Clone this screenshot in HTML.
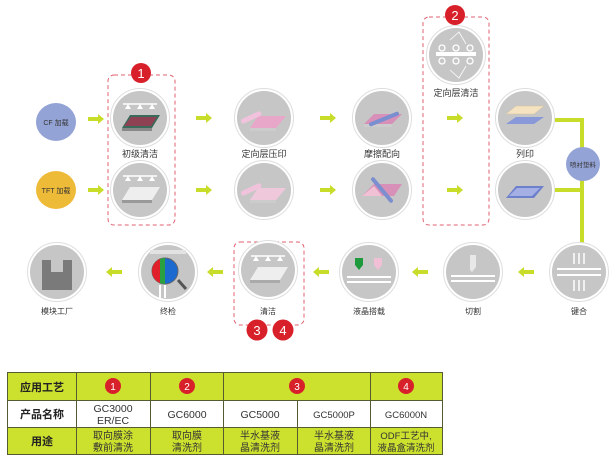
<!DOCTYPE html>
<html><head><meta charset="utf-8"><style>
html,body{margin:0;padding:0;background:#fff;}
svg{display:block;font-family:"Liberation Sans","Noto Sans CJK SC",sans-serif;}
</style></head><body>
<svg width="615" height="463" viewBox="0 0 615 463" xmlns="http://www.w3.org/2000/svg">
<defs>
<g id="arR"><rect x="0" y="-2" width="11" height="4" fill="#c8dc2a"/><polygon points="10,-5 16,0 10,5" fill="#c8dc2a"/></g>
<g id="arL"><rect x="5" y="-2" width="11" height="4" fill="#c8dc2a"/><polygon points="6,-5 0,0 6,5" fill="#c8dc2a"/></g>
<g id="circ"><circle r="29.5" fill="#fff" stroke="#dedede" stroke-width="1"/><circle r="27" fill="#c6c6c6"/></g>
<g id="spray"><line x1="-17" y1="-14" x2="17" y2="-14" stroke="#fff" stroke-width="1.5"/><polygon points="-12,-14 -15,-9 -9,-9" fill="#fff"/><polygon points="0,-14 -3,-9 3,-9" fill="#fff"/><polygon points="12,-14 9,-9 15,-9" fill="#fff"/></g>
</defs>

<!-- dashed boxes -->
<rect x="108" y="75" width="67" height="150" rx="6" fill="none" stroke="#e06070" stroke-width="1" stroke-dasharray="4,3"/>
<rect x="423" y="17" width="66" height="208" rx="6" fill="none" stroke="#e06070" stroke-width="1" stroke-dasharray="4,3"/>
<rect x="234" y="242" width="70" height="83" rx="6" fill="none" stroke="#e06070" stroke-width="1" stroke-dasharray="4,3"/>

<!-- loading circles -->
<ellipse cx="56" cy="122" rx="20" ry="19" fill="#94a3d6"/>
<text x="56" y="125" font-size="7" text-anchor="middle" fill="#333">CF 加载</text>
<ellipse cx="56" cy="190" rx="20" ry="19" fill="#eebb38"/>
<text x="56" y="193" font-size="7" text-anchor="middle" fill="#333">TFT 加载</text>

<!-- row 1 arrows -->
<use href="#arR" x="88" y="119"/>
<use href="#arR" x="196" y="118"/>
<use href="#arR" x="320" y="118"/>
<use href="#arR" x="447" y="118"/>
<!-- row 2 arrows -->
<use href="#arR" x="88" y="190"/>
<use href="#arR" x="196" y="190"/>
<use href="#arR" x="320" y="190"/>
<use href="#arR" x="447" y="190"/>

<!-- right connector -->
<rect x="555" y="118" width="29" height="4" fill="#c8dc2a"/>
<rect x="555" y="188" width="29" height="4" fill="#c8dc2a"/>
<rect x="580" y="118" width="4" height="130" fill="#c8dc2a"/>
<ellipse cx="583" cy="164" rx="17" ry="17" fill="#94a3d6"/>
<text x="583" y="167" font-size="6.5" text-anchor="middle" fill="#333">喷衬垫料</text>

<!-- row 1 circles -->
<use href="#circ" x="140" y="118"/>
<use href="#spray" x="140" y="118"/>
<polygon points="122,128 152,128 160,115 130,115" fill="#3a6a5a"/>
<polygon points="124,126 151,126 157,117 131,117" fill="#b03050" opacity="0.7"/>
<polygon points="122,128 152,128 152,131 122,131" fill="#888"/>
<text x="140" y="157" font-size="9" text-anchor="middle" fill="#333">初级清洁</text>

<use href="#circ" x="264" y="118"/>
<polygon points="250,128 276,128 286,116 258,116" fill="#e8a6c8"/>
<polygon points="250,128 276,128 276,131 250,131" fill="#ccc"/>
<rect x="240" y="115" width="22" height="5" rx="2.5" fill="#f1c2dc" transform="rotate(-25 251 117)"/>
<text x="264" y="157" font-size="9" text-anchor="middle" fill="#333">定向层压印</text>

<use href="#circ" x="382" y="118"/>
<polygon points="364,124 392,124 402,114 374,114" fill="#d890b8"/>
<polygon points="364,124 392,124 392,127 364,127" fill="#ccc"/>
<rect x="368" y="117" width="32" height="4" rx="2" fill="#7a8ed0" transform="rotate(-22 384 119)"/>
<text x="382" y="157" font-size="9" text-anchor="middle" fill="#333">摩擦配向</text>

<use href="#circ" x="525" y="118"/>
<polygon points="506,124 534,124 544,117 516,117" fill="#8898d8"/>
<polygon points="506,114 534,114 544,106 516,106" fill="#f4e2c0" stroke="#d6c4a0" stroke-width="0.5"/>
<text x="525" y="157" font-size="9" text-anchor="middle" fill="#333">列印</text>

<!-- circle 2 -->
<use href="#circ" x="456" y="55"/>
<rect x="436" y="52" width="40" height="4" fill="#fff"/>
<circle cx="442" cy="48" r="3" fill="none" stroke="#fff" stroke-width="1.3"/>
<circle cx="456" cy="48" r="3" fill="none" stroke="#fff" stroke-width="1.3"/>
<circle cx="470" cy="48" r="3" fill="none" stroke="#fff" stroke-width="1.3"/>
<circle cx="442" cy="61" r="3" fill="none" stroke="#fff" stroke-width="1.3"/>
<circle cx="456" cy="61" r="3" fill="none" stroke="#fff" stroke-width="1.3"/>
<circle cx="470" cy="61" r="3" fill="none" stroke="#fff" stroke-width="1.3"/>
<polyline points="450,40 459,32 466,44" fill="none" stroke="#fff" stroke-width="0.8"/>
<polyline points="450,70 459,78 466,66" fill="none" stroke="#fff" stroke-width="0.8"/>
<text x="456" y="96" font-size="9" text-anchor="middle" fill="#333">定向层清洁</text>

<!-- row 2 circles -->
<use href="#circ" x="140" y="190"/>
<use href="#spray" x="140" y="190"/>
<polygon points="122,200 152,200 160,187 130,187" fill="#eeeeee"/>
<polygon points="122,200 152,200 152,203 122,203" fill="#999"/>

<use href="#circ" x="264" y="190"/>
<polygon points="250,200 276,200 286,188 258,188" fill="#f0c8dc"/>
<polygon points="250,200 276,200 276,203 250,203" fill="#ccc"/>
<rect x="240" y="187" width="22" height="5" rx="2.5" fill="#f1c2dc" transform="rotate(-25 251 189)"/>

<use href="#circ" x="382" y="190"/>
<polygon points="362,196 394,196 402,184 374,184" fill="#d890b8"/>
<polygon points="362,196 382,196 374,186" fill="#f0c0d4"/>
<rect x="366" y="188" width="32" height="4" rx="2" fill="#7a8ed0" transform="rotate(50 382 190)"/>

<use href="#circ" x="525" y="190"/>
<polygon points="506,198 534,198 544,186 516,186" fill="#6e80cc"/>
<polygon points="509,196 532,196 540,188 517,188" fill="#a4b0e4"/>

<!-- badges -->
<circle cx="141" cy="73" r="10" fill="#d8202a"/>
<text x="141" y="78" font-size="13" text-anchor="middle" fill="#fff">1</text>
<circle cx="455" cy="15" r="10" fill="#d8202a"/>
<text x="455" y="20" font-size="13" text-anchor="middle" fill="#fff">2</text>
<circle cx="257" cy="330" r="10.5" fill="#d8202a"/>
<text x="257" y="335" font-size="13" text-anchor="middle" fill="#fff">3</text>
<circle cx="283" cy="330" r="10.5" fill="#d8202a"/>
<text x="283" y="335" font-size="13" text-anchor="middle" fill="#fff">4</text>

<!-- row 3 -->
<use href="#arL" x="106" y="272"/>
<use href="#arL" x="207" y="272"/>
<use href="#arL" x="313" y="272"/>
<use href="#arL" x="412" y="272"/>
<use href="#arL" x="518" y="272"/>

<use href="#circ" x="57" y="272"/>
<path d="M42,260 H51 V272 H63 V260 H72 V290 H42 Z" fill="#7a7a7a"/>
<text x="57" y="314" font-size="8" text-anchor="middle" fill="#333">模块工厂</text>

<use href="#circ" x="168" y="272"/>
<rect x="150" y="250" width="36" height="4" fill="#e2e2e2"/>
<line x1="160" y1="285" x2="160" y2="298" stroke="#fff" stroke-width="2"/>
<line x1="165" y1="285" x2="165" y2="298" stroke="#fff" stroke-width="2"/>
<line x1="178" y1="280" x2="186" y2="289" stroke="#555" stroke-width="3"/>
<circle cx="165" cy="271" r="13" fill="#1a6ad0" stroke="#666" stroke-width="1"/>
<path d="M165,258 a13,13 0 0 0 0,26 Z" fill="#2aa040"/>
<path d="M160,259 a13,13 0 0 0 0,24 Z" fill="#e0202a"/>
<text x="168" y="314" font-size="8" text-anchor="middle" fill="#333">终检</text>

<use href="#circ" x="268" y="270"/>
<use href="#spray" x="268" y="270"/>
<polygon points="250,280 280,280 288,267 258,267" fill="#eee"/>
<polygon points="250,280 280,280 280,283 250,283" fill="#aaa"/>
<text x="268" y="314" font-size="8" text-anchor="middle" fill="#333">清洁</text>

<use href="#circ" x="369" y="272"/>
<rect x="347" y="276" width="44" height="2" fill="#fff"/>
<rect x="347" y="281" width="44" height="2" fill="#fff"/>
<path d="M355,258 h8 v7 l-4,5 l-4,-5 Z" fill="#1e9a3c"/>
<path d="M374,258 h8 v7 l-4,5 l-4,-5 Z" fill="#f2c0d6"/>
<text x="369" y="314" font-size="8" text-anchor="middle" fill="#333">液晶搭载</text>

<use href="#circ" x="473" y="272"/>
<rect x="451" y="275" width="44" height="2" fill="#fff"/>
<rect x="451" y="280" width="44" height="2" fill="#fff"/>
<path d="M470,255 h6 v12 l-4,5 l-2,-2 Z" fill="#e8e8e8"/>
<text x="473" y="314" font-size="8" text-anchor="middle" fill="#333">切割</text>

<use href="#circ" x="579" y="272"/>
<rect x="557" y="268" width="44" height="2" fill="#fff"/>
<rect x="557" y="274" width="44" height="2" fill="#fff"/>
<g stroke="#fff" stroke-width="1.5"><line x1="574" y1="253" x2="574" y2="264"/><line x1="579" y1="253" x2="579" y2="264"/><line x1="584" y1="253" x2="584" y2="264"/><line x1="574" y1="280" x2="574" y2="291"/><line x1="579" y1="280" x2="579" y2="291"/><line x1="584" y1="280" x2="584" y2="291"/></g>
<text x="579" y="314" font-size="8" text-anchor="middle" fill="#333">键合</text>

<!-- table -->
<g stroke="#555a30" stroke-width="1">
<rect x="7.5" y="372.5" width="435" height="82" fill="#cce02e"/>
<rect x="76.5" y="400.5" width="366" height="27" fill="#fff"/>
<rect x="7.5" y="400.5" width="69" height="27" fill="#fff"/>
<line x1="7" y1="400.5" x2="443" y2="400.5"/>
<line x1="7" y1="427.5" x2="443" y2="427.5"/>
<line x1="76.5" y1="372" x2="76.5" y2="455"/>
<line x1="150.5" y1="372" x2="150.5" y2="455"/>
<line x1="223.5" y1="372" x2="223.5" y2="455"/>
<line x1="297.5" y1="400" x2="297.5" y2="455"/>
<line x1="370.5" y1="372" x2="370.5" y2="455"/>
</g>
<g font-size="11" font-weight="bold" text-anchor="middle" fill="#222">
<text x="42" y="391">应用工艺</text>
<text x="42" y="418">产品名称</text>
<text x="42" y="445">用途</text>
</g>
<g fill="#d8202a"><circle cx="113" cy="386" r="8"/><circle cx="187" cy="386" r="8"/><circle cx="297" cy="386" r="8"/><circle cx="406" cy="386" r="8"/></g>
<g font-size="10" text-anchor="middle" fill="#fff"><text x="113" y="390">1</text><text x="187" y="390">2</text><text x="297" y="390">3</text><text x="406" y="390">4</text></g>
<g font-size="10.5" text-anchor="middle" fill="#333">
<text x="113" y="412">GC3000</text><text x="113" y="424">ER/EC</text>
<text x="187" y="418">GC6000</text>
<text x="260" y="418">GC5000</text>
<text x="334" y="418" font-size="9.5">GC5000P</text>
<text x="406" y="418" font-size="9.5">GC6000N</text>
</g>
<g font-size="10" text-anchor="middle" fill="#333">
<text x="113" y="439">取向膜涂</text><text x="113" y="451">敷前清洗</text>
<text x="187" y="439">取向膜</text><text x="187" y="451">清洗剂</text>
<text x="260" y="439">半水基液</text><text x="260" y="451">晶清洗剂</text>
<text x="334" y="439">半水基液</text><text x="334" y="451">晶清洗剂</text>
<text x="406" y="439" font-size="9.5">ODF工艺中,</text><text x="406" y="451" font-size="9.5">液晶盒清洗剂</text>
</g>
</svg>
</body></html>
